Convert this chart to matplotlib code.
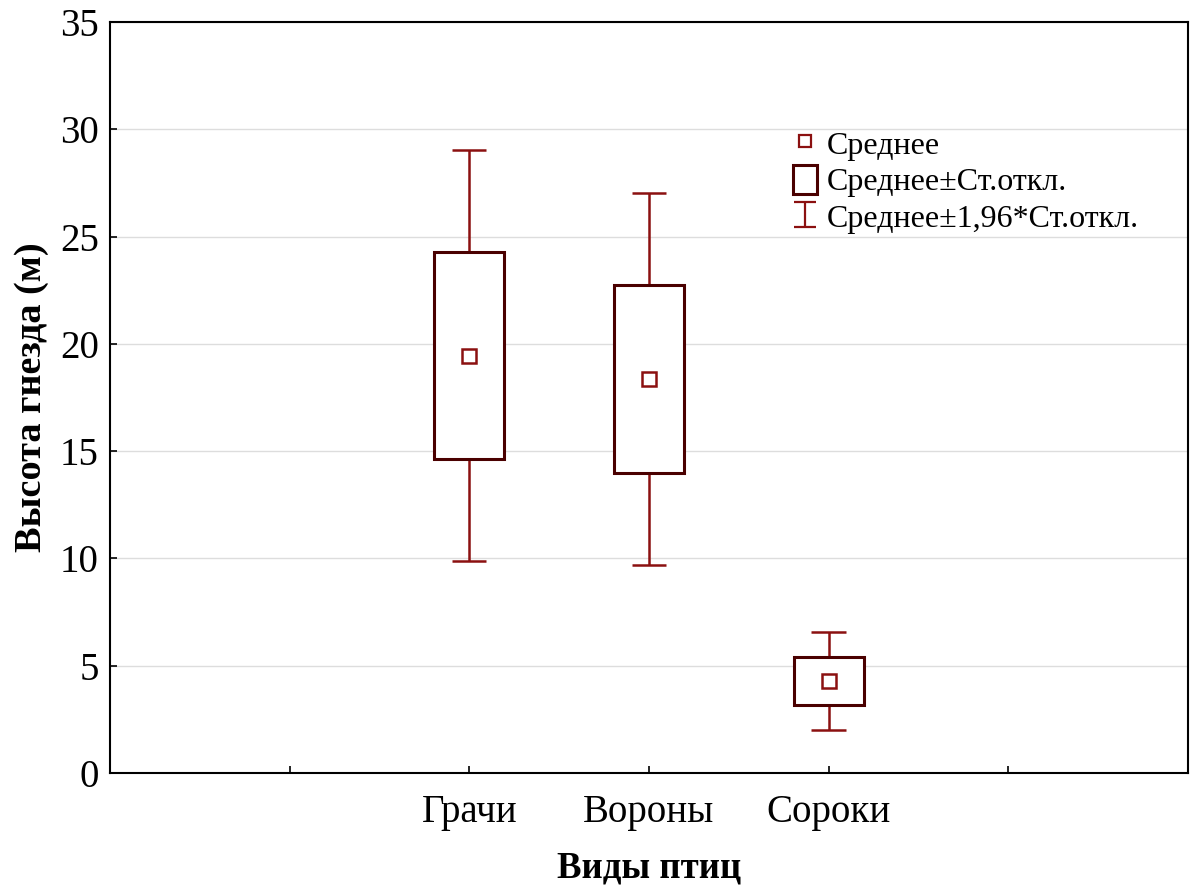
import numpy as np
import matplotlib
matplotlib.use('Agg')
import matplotlib.pyplot as plt
from matplotlib.path import Path
from matplotlib.lines import Line2D
from matplotlib.patches import Patch

plt.rcParams['font.family'] = ['Liberation Serif', 'DejaVu Serif']

# data
species = ['Грачи', 'Вороны', 'Сороки']
mean = [19.45, 18.35, 4.3]
sd_low = [14.65, 13.98, 3.17]
sd_high = [24.3, 22.75, 5.42]
ci_low = [9.9, 9.7, 2.0]
ci_high = [29.05, 27.05, 6.55]

box_col = '#4a0000'
wh_col = '#8b1010'

fig = plt.figure(figsize=(11.95, 8.88), dpi=100)
ax = fig.add_axes([0.092, 0.1295, 0.902, 0.8455])

x = np.arange(1, len(species) + 1)

# whiskers (mean +- 1.96*sd)
ax.vlines(x, sd_high, ci_high, color=wh_col, lw=1.8, zorder=2)
ax.vlines(x, ci_low, sd_low, color=wh_col, lw=1.8, zorder=2)
ax.hlines(ci_high, x - 0.095, x + 0.095, color=wh_col, lw=1.8, zorder=2)
ax.hlines(ci_low, x - 0.095, x + 0.095, color=wh_col, lw=1.8, zorder=2)

# boxes (mean +- sd)
ax.bar(x, np.array(sd_high) - np.array(sd_low), bottom=sd_low, width=0.39,
       color='white', edgecolor=box_col, linewidth=2.2, zorder=3)

# means
ax.plot(x, mean, 's', mfc='none', mec=wh_col, mew=1.8, ms=9.5, zorder=4)

ax.set_xlim(-1, 5)
ax.set_ylim(0, 35)
ax.set_xticks([0, 1, 2, 3, 4])
ax.set_xticklabels([''] + species + [''])
ax.set_yticks(np.arange(0, 36, 5))
ax.tick_params(direction='in', labelsize=28, length=5, width=1.2, colors='black')
ax.tick_params(axis='x', pad=15)
ax.tick_params(axis='y', pad=8)
ax.yaxis.grid(True, color='#dddddd', lw=1)
ax.set_axisbelow(True)
for s in ax.spines.values():
    s.set_linewidth(1.5)

ax.set_ylabel('Высота гнезда (м)', fontsize=27.5, fontweight='bold', labelpad=8)
ax.set_xlabel('Виды птиц', fontsize=26.5, fontweight='bold', labelpad=14)

# legend
wh_path = Path([(-0.9, -1), (0.9, -1), (0, -1), (0, 1), (-0.9, 1), (0.9, 1)],
               [Path.MOVETO, Path.LINETO, Path.MOVETO, Path.LINETO, Path.MOVETO, Path.LINETO])
handles = [
    Line2D([], [], ls='none', marker='s', mfc='none', mec=wh_col, mew=1.6, ms=8.5),
    Patch(facecolor='white', edgecolor=box_col, linewidth=2.2),
    Line2D([], [], ls='none', marker=wh_path, mfc='none', mec=wh_col, mew=1.6, ms=18),
]
labels = ['Среднее', 'Среднее±Ст.откл.', 'Среднее±1,96*Ст.откл.']
ax.legend(handles, labels, loc='upper left', bbox_to_anchor=(0.634, 0.858),
          frameon=False, fontsize=23, handlelength=0.75, handleheight=1.0,
          handletextpad=0.3, labelspacing=0.13, borderaxespad=0, borderpad=0)

fig.savefig('out.png', dpi=100)
